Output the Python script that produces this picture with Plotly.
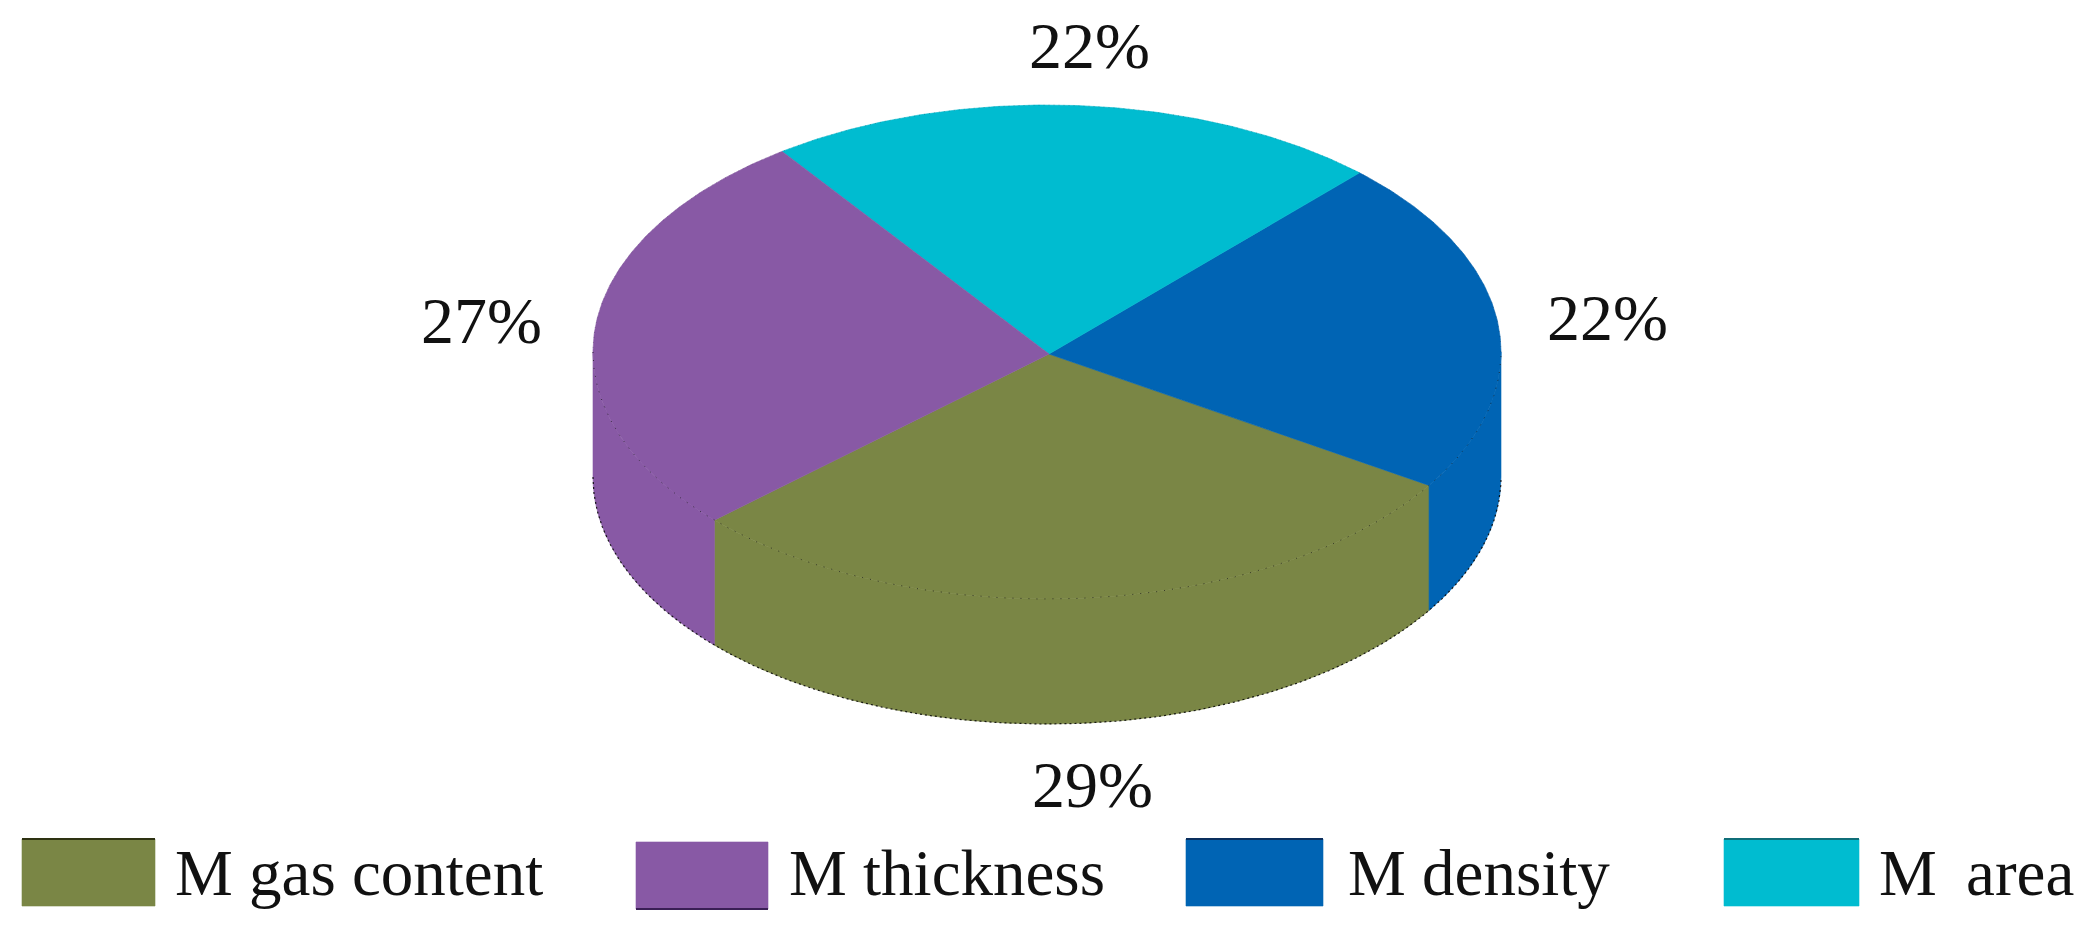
import numpy as np
import plotly.graph_objects as go

# --- data ---
categories = ["M gas content", "M thickness", "M density", "M\u00a0\u2009area"]
values = [29, 27, 22, 22]
colors = ["#7A8645", "#8859A5", "#0064B4", "#00BCD0"]
edge_colors = ["#2E3212", "#3A1F55", "#0A2F5E", "#0F6E78"]
draw_order = [0, 2, 3, 1]          # counter-clockwise order round the pie
start_angle = 222.9

# --- layout constants (pixels of the 2088x930 page) ---
CX, CY, RX, RY, DEPTH = 1047, 352, 454, 247, 125
APEX = (1049, 354)
label_pos = {0: (1092, 784), 1: (481, 320), 2: (1607, 317), 3: (1089, 45)}
swatch_x = [(22, 155), (636, 768), (1186, 1323), (1724, 1859)]
swatch_y = [(839, 906), (842, 909), (839, 906), (839, 906)]
edge_on_top = [True, False, True, True]
legend_text_x = [173, 787, 1346, 1877]
FONT = "Liberation Serif"
PAGE_MARGIN = 8   # the page body keeps its default margin


def arc(a1, a2, dy=0.0):
    t = np.radians(np.linspace(a1, a2, max(int(abs(a2 - a1) * 2), 2)))
    return CX + RX * np.cos(t), CY + RY * -np.sin(t) + dy


fig = go.Figure()


def poly(x, y, color):
    fig.add_trace(go.Scatter(x=list(x), y=list(y), mode="lines", fill="toself",
                             fillcolor=color, line=dict(color=color, width=0.6),
                             hoverinfo="skip", showlegend=False))


def line(x, y, color, width=1, dash="dot"):
    fig.add_trace(go.Scatter(x=list(x), y=list(y), mode="lines",
                             line=dict(color=color, width=width, dash=dash),
                             hoverinfo="skip", showlegend=False))


# slice angle ranges from the values
total = sum(values)
ranges = {}
a = start_angle
for i in draw_order:
    span = 360 * values[i] / total
    ranges[i] = (a, a + span)
    a += span

# outer walls (visible lower half only)
for i in draw_order:
    a1, a2 = ranges[i]
    for lo, hi in ((a1, a2), (a1 - 360, a2 - 360), (a1 + 360, a2 + 360)):
        l, h = max(lo, 180), min(hi, 360)
        if h > l:
            tx, ty = arc(l, h)
            bx, by = arc(h, l, DEPTH)
            poly(np.r_[tx, bx, tx[0]], np.r_[ty, by, ty[0]], colors[i])

# top face
for i in draw_order:
    a1, a2 = ranges[i]
    x, y = arc(a1, a2)
    poly(np.r_[APEX[0], x, APEX[0]], np.r_[APEX[1], y, APEX[1]], colors[i])

# thin dotted edges
fx, fy = arc(180, 360)
line(fx, fy, "rgba(20,20,20,0.7)", 1, "1px,7px")
bx, by = arc(180, 360, DEPTH)
line(bx, by, "rgba(10,10,10,0.9)", 1.2, "2px,3px")
ox, oy = arc(0, 180)
line(ox, oy, "rgba(10,10,30,0.3)", 0.8, "1px,4px")

# legend swatches
for i in range(4):
    x0, x1 = swatch_x[i]
    y0, y1 = swatch_y[i]
    poly([x0, x1, x1, x0, x0], [y0, y0, y1, y1, y0], colors[i])
    ye = y0 if edge_on_top[i] else y1
    line([x0, x1], [ye, ye], edge_colors[i], 2, "solid")

annotations = []
for i, v in enumerate(values):
    lx, ly = label_pos[i]
    annotations.append(dict(x=lx, y=ly, text=f"{v}%", showarrow=False,
                            xanchor="center", yanchor="middle", xref="x", yref="y",
                            font=dict(family=FONT, size=66, color="#111111")))
for i, name in enumerate(categories):
    annotations.append(dict(x=legend_text_x[i], y=873, text=name, showarrow=False,
                            xanchor="left", yanchor="middle", xref="x", yref="y",
                            font=dict(family=FONT, size=65, color="#111111")))

fig.update_layout(
    width=2088 - PAGE_MARGIN, height=930 - PAGE_MARGIN, margin=dict(l=0, r=0, t=0, b=0),
    paper_bgcolor="white", plot_bgcolor="white", showlegend=False,
    xaxis=dict(range=[PAGE_MARGIN, 2088], visible=False, fixedrange=True),
    yaxis=dict(range=[930, PAGE_MARGIN], visible=False, fixedrange=True),
    annotations=annotations,
)
fig.write_html("out.html", config=dict(displayModeBar=False))
